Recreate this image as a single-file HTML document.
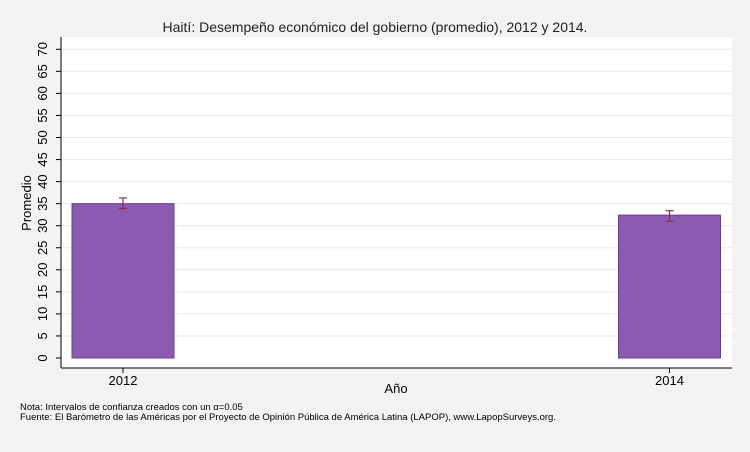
<!DOCTYPE html>
<html><head><meta charset="utf-8"><style>
body{margin:0;background:#f4f3f1;font-family:"Liberation Sans",sans-serif;}
svg{display:block}
</style></head><body>
<svg width="750" height="452">
<rect x="0" y="0" width="750" height="452" fill="#f4f3f1"/>
<rect x="61" y="37" width="671" height="331" fill="#ffffff"/>
<text x="375" y="32" text-anchor="middle" font-size="14" fill="#222">Haití: Desempeño económico del gobierno (promedio), 2012 y 2014.</text>
<g id="grid"></g><g id="yticks"></g><g id="bars"></g>
<line x1="61" y1="37" x2="61" y2="368" stroke="#000"/>
<line x1="61" y1="368" x2="732" y2="368" stroke="#000"/>
<text x="31" y="203" text-anchor="middle" font-size="13" transform="rotate(-90 31 203)">Promedio</text>
<text x="396" y="393" text-anchor="middle" font-size="13">Año</text>
<text x="20" y="410" font-size="9.5">Nota: Intervalos de confianza creados con un α=0.05</text>
<text x="20" y="420" font-size="9.5">Fuente: El Barómetro de las Américas por el Proyecto de Opinión Pública de América Latina (LAPOP), www.LapopSurveys.org.</text>
</svg>
<script>
const categories=["2012","2014"];
const values=[35.0,32.4];
const ciLow=[33.9,31.0];
const ciHigh=[36.3,33.4];
const yTicks=[0,5,10,15,20,25,30,35,40,45,50,55,60,65,70];
const NS="http://www.w3.org/2000/svg";
function y(v){return 358-v*4.41;}
function xc(i){return 123+i*546.5;}
function mk(t,a,p){const e=document.createElementNS(NS,t);for(const k in a)e.setAttribute(k,a[k]);p.appendChild(e);return e;}
const grid=document.getElementById('grid'),yt=document.getElementById('yticks'),bars=document.getElementById('bars');
yTicks.forEach(v=>{
 if(v>0){const g=mk('line',{x1:62,x2:732,y1:y(v),y2:y(v),stroke:'#e6ecec'},grid);
 
 }
 const t=mk('line',{x1:56,x2:61,y1:y(v),y2:y(v),stroke:'#000'},yt);
 
 
 const l=mk('text',{x:0,y:0,'font-size':13,'text-anchor':'middle',transform:`translate(47 ${y(v)}) rotate(-90) translate(0 0)`,dy:'0'},yt);
 l.textContent=v;
 
 
});
// adjust rotated labels baseline
yt.querySelectorAll('text').forEach(t=>{t.setAttribute('dominant-baseline','auto');});
categories.forEach((c,i)=>{
 const cx=xc(i);
 const b=mk('rect',{x:cx-51,y:y(values[i]),width:102,height:y(0)-y(values[i]),fill:'#8b5ab1',stroke:'#6b3b9b','stroke-width':1},bars);
 
 
 const e=mk('path',{d:`M${cx-4} ${y(ciHigh[i])}H${cx+4}M${cx} ${y(ciHigh[i])}V${y(ciLow[i])}M${cx-4} ${y(ciLow[i])}H${cx+4}`,stroke:'#8b2a3a',fill:'none','stroke-width':1.2},bars);
 
 
 const tk=mk('line',{x1:cx,x2:cx,y1:368,y2:373,stroke:'#000'},bars);
 
 
 const l=mk('text',{x:cx,y:385,'font-size':13,'text-anchor':'middle'},bars);
 l.textContent=c;
 
 
});
</script>
</body></html>
